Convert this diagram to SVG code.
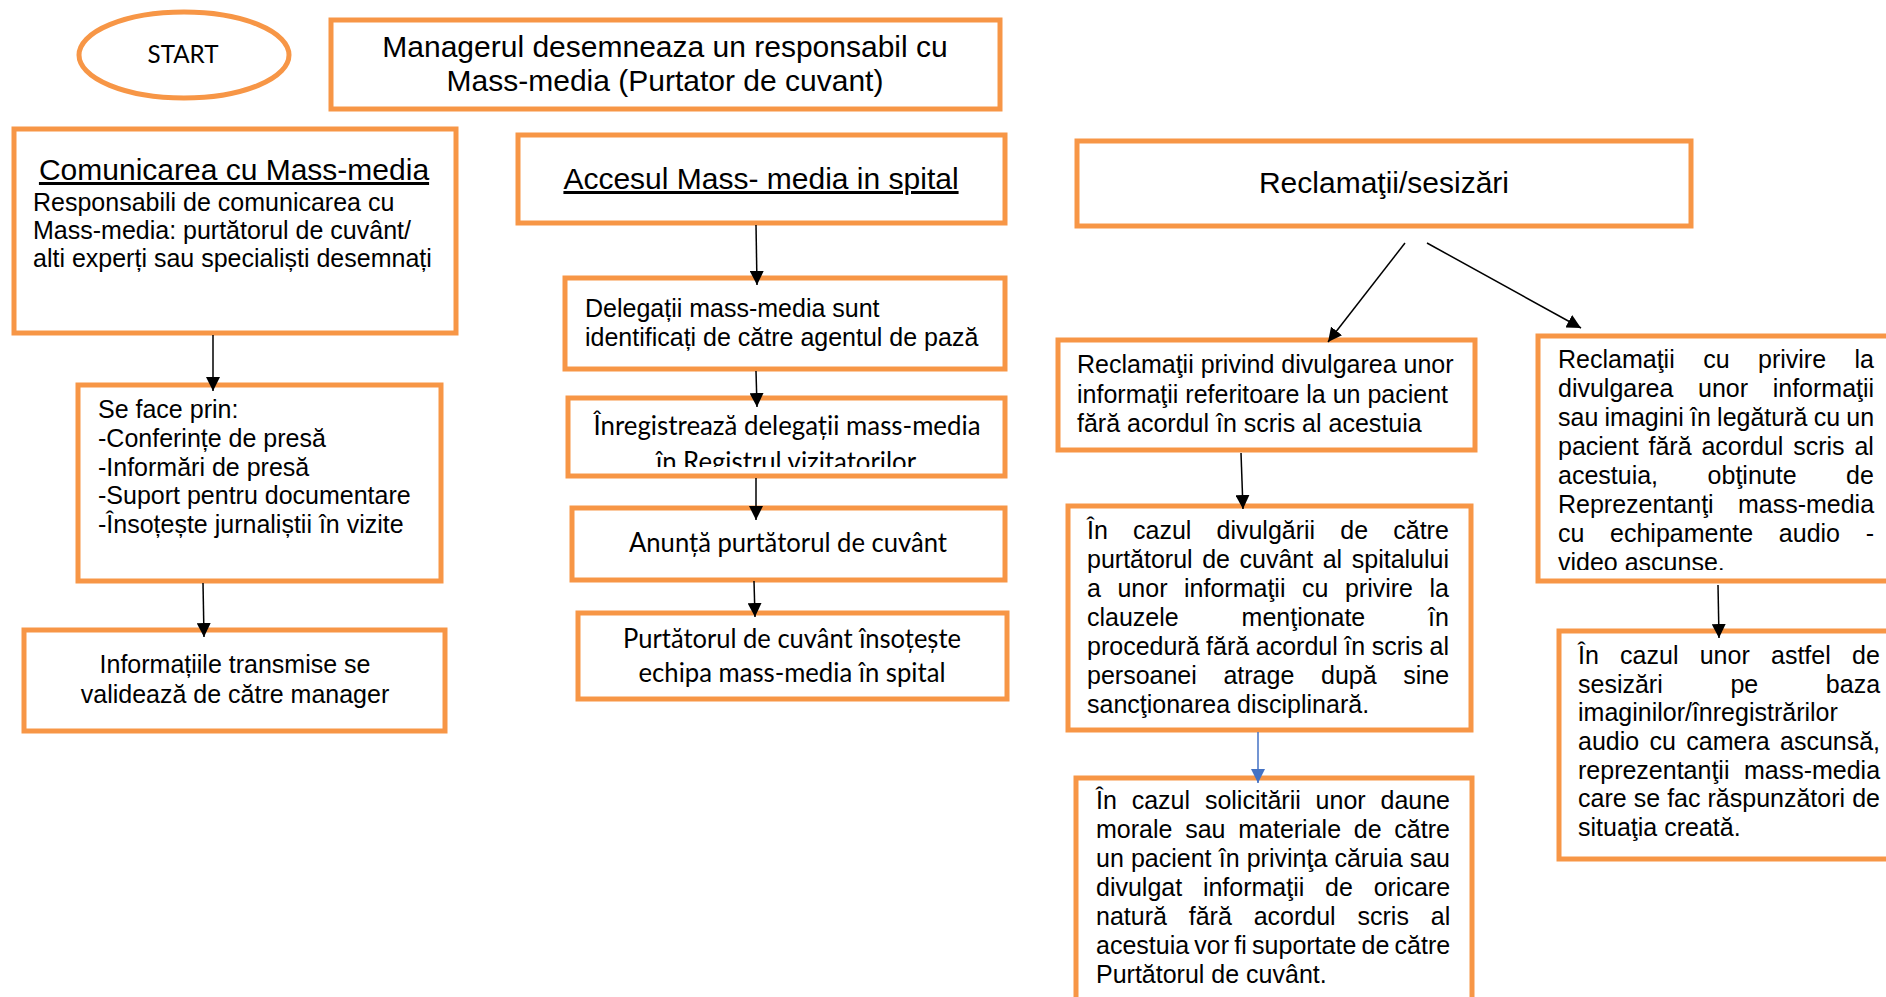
<svg xmlns="http://www.w3.org/2000/svg" width="1886" height="997" viewBox="0 0 1886 997">
<style>
.box{fill:#fff;stroke:#F79646;stroke-width:5}
.t{font-family:"Liberation Sans",Arial,sans-serif;font-size:25px;fill:#000}
.h{font-family:"Liberation Sans",Arial,sans-serif;font-size:30px;fill:#000}
.c{font-family:Lato,"Open Sans",sans-serif;font-size:27px;fill:#000}
.mid{text-anchor:middle}
.conn{stroke:#000;stroke-width:1.5;fill:none;marker-end:url(#ah)}
.blue{stroke:#4472C4;stroke-width:1.5;fill:none;marker-end:url(#ahb)}
</style>
<defs>
<marker id="ah" markerUnits="userSpaceOnUse" markerWidth="14" markerHeight="14" refX="14" refY="7" orient="auto"><path d="M0,0 L14,7 L0,14 z" fill="#000"/></marker>
<marker id="ahb" markerUnits="userSpaceOnUse" markerWidth="14" markerHeight="14" refX="14" refY="7" orient="auto"><path d="M0,0 L14,7 L0,14 z" fill="#4472C4"/></marker>
<clipPath id="clipReg"><rect x="570" y="400" width="433" height="67"/></clipPath>
<clipPath id="clipR1"><rect x="1540" y="338" width="346" height="232"/></clipPath>
</defs>
<rect width="1886" height="997" fill="#fff"/>

<g id="start">
<ellipse cx="184" cy="55" rx="105" ry="43" fill="#fff" stroke="#F79646" stroke-width="5"/>
<text class="c mid" x="183" y="63" textLength="71" lengthAdjust="spacingAndGlyphs" style="font-size:25px">START</text>
</g>

<g id="manager">
<rect class="box" x="331" y="20" width="669" height="89"/>
<text class="h mid" x="665" y="57">Managerul desemneaza un responsabil cu</text>
<text class="h mid" x="665" y="91">Mass-media (Purtator de cuvant)</text>
</g>

<g id="comunicarea">
<rect class="box" x="14" y="129" width="442" height="204"/>
<text class="h mid" x="234" y="180" text-decoration="underline">Comunicarea cu Mass-media</text>
<text class="t" x="33" y="211">Responsabili de comunicarea cu</text>
<text class="t" x="33" y="239">Mass-media: purtătorul de cuvânt/</text>
<text class="t" x="33" y="267">alti experți sau specialiști desemnați</text>
</g>

<g id="seface">
<rect class="box" x="78" y="385" width="363" height="196"/>
<text class="t" x="98" y="418">Se face prin:</text>
<text class="t" x="98" y="447">-Conferințe de presă</text>
<text class="t" x="98" y="476">-Informări de presă</text>
<text class="t" x="98" y="504">-Suport pentru documentare</text>
<text class="t" x="98" y="533">-Însoțește jurnaliștii în vizite</text>
</g>

<g id="informatiile">
<rect class="box" x="24" y="630" width="421" height="101"/>
<text class="t mid" x="235" y="673">Informațiile transmise se</text>
<text class="t mid" x="235" y="703">validează de către manager</text>
</g>

<g id="accesul">
<rect class="box" x="518" y="135" width="487" height="88"/>
<text class="h mid" x="761" y="189" text-decoration="underline">Accesul Mass- media in spital</text>
</g>

<g id="delegatii">
<rect class="box" x="565" y="278" width="440" height="91"/>
<text class="t" x="585" y="317">Delegații mass-media sunt</text>
<text class="t" x="585" y="346">identificați de către agentul de pază</text>
</g>

<g id="inregistreaza">
<rect class="box" x="568" y="398" width="437" height="78"/>
<g clip-path="url(#clipReg)">
<text class="c mid" x="787" y="435" textLength="387" lengthAdjust="spacingAndGlyphs">Înregistrează delegații mass-media</text>
<text class="c mid" x="786" y="471" textLength="260" lengthAdjust="spacingAndGlyphs">în Registrul vizitatorilor</text>
</g>
</g>

<g id="anunta">
<rect class="box" x="572" y="508" width="433" height="72"/>
<text class="c mid" x="788" y="552" textLength="318" lengthAdjust="spacingAndGlyphs">Anunță purtătorul de cuvânt</text>
</g>

<g id="purtatorul">
<rect class="box" x="578" y="613" width="429" height="86"/>
<text class="c mid" x="792" y="648" textLength="338" lengthAdjust="spacingAndGlyphs">Purtătorul de cuvânt însoțește</text>
<text class="c mid" x="792" y="682" textLength="307" lengthAdjust="spacingAndGlyphs">echipa mass-media în spital</text>
</g>

<g id="reclamatii">
<rect class="box" x="1077" y="141" width="614" height="85"/>
<text class="h mid" x="1384" y="193">Reclamaţii/sesizări</text>
</g>

<g id="divulgare">
<rect class="box" x="1058" y="340" width="417" height="110"/>
<text class="t" x="1077" y="373">Reclamaţii privind divulgarea unor</text>
<text class="t" x="1077" y="403">informaţii referitoare la un pacient</text>
<text class="t" x="1077" y="432">fără acordul în scris al acestuia</text>
</g>

<g id="cazul-divulgarii">
<rect class="box" x="1068" y="506" width="403" height="224"/>
<text class="t" x="1087" y="539" style="word-spacing:18.2px">În cazul divulgării de către</text>
<text class="t" x="1087" y="568" style="word-spacing:2.6px">purtătorul de cuvânt al spitalului</text>
<text class="t" x="1087" y="597" style="word-spacing:9.6px">a unor informaţii cu privire la</text>
<text class="t" x="1087" y="626" style="word-spacing:55.9px">clauzele menţionate în</text>
<text class="t" x="1087" y="655" style="word-spacing:-0.4px">procedură fără acordul în scris al</text>
<text class="t" x="1087" y="684" style="word-spacing:19.7px">persoanei atrage după sine</text>
<text class="t" x="1087" y="713">sancţionarea disciplinară.</text>
</g>

<g id="cazul-solicitarii">
<rect class="box" x="1076" y="778" width="396" height="240"/>
<text class="t" x="1096" y="809" style="word-spacing:7.9px">În cazul solicitării unor daune</text>
<text class="t" x="1096" y="838" style="word-spacing:5.8px">morale sau materiale de către</text>
<text class="t" x="1096" y="867" style="word-spacing:0.2px">un pacient în privinţa căruia sau</text>
<text class="t" x="1096" y="896" style="word-spacing:13.8px">divulgat informaţii de oricare</text>
<text class="t" x="1096" y="925" style="word-spacing:14.9px">natură fără acordul scris al</text>
<text class="t" x="1096" y="954" style="word-spacing:-1.7px">acestuia vor fi suportate de către</text>
<text class="t" x="1096" y="983">Purtătorul de cuvânt.</text>
</g>

<g id="imagini">
<rect class="box" x="1538" y="336" width="400" height="245"/>
<g clip-path="url(#clipR1)">
<text class="t" x="1558" y="368" style="word-spacing:21.5px">Reclamaţii cu privire la</text>
<text class="t" x="1558" y="397" style="word-spacing:17.7px">divulgarea unor informaţii</text>
<text class="t" x="1558" y="426" style="word-spacing:-0.7px">sau imagini în legătură cu un</text>
<text class="t" x="1558" y="455" style="word-spacing:2.9px">pacient fără acordul scris al</text>
<text class="t" x="1558" y="484" style="word-spacing:42.6px">acestuia, obţinute de</text>
<text class="t" x="1558" y="513" style="word-spacing:17.3px">Reprezentanţi mass-media</text>
<text class="t" x="1558" y="542" style="word-spacing:18.7px">cu echipamente audio -</text>
<text class="t" x="1558" y="571">video ascunse.</text>
</g>
</g>

<g id="camera-ascunsa">
<rect class="box" x="1559" y="631" width="400" height="228"/>
<text class="t" x="1578" y="664" style="word-spacing:14.3px">În cazul unor astfel de</text>
<text class="t" x="1578" y="693" style="word-spacing:60.7px">sesizări pe baza</text>
<text class="t" x="1578" y="721">imaginilor/înregistrărilor</text>
<text class="t" x="1578" y="750" style="word-spacing:3.4px">audio cu camera ascunsă,</text>
<text class="t" x="1578" y="779" style="word-spacing:7.5px">reprezentanţii mass-media</text>
<text class="t" x="1578" y="807" style="word-spacing:0.1px">care se fac răspunzători de</text>
<text class="t" x="1578" y="836">situaţia creată.</text>
</g>

<g id="connectors">
<line class="conn" x1="213" y1="335" x2="213" y2="391"/>
<line class="conn" x1="203" y1="583" x2="204" y2="637"/>
<line class="conn" x1="756" y1="225" x2="757" y2="285"/>
<line class="conn" x1="756" y1="371" x2="757" y2="407"/>
<line class="conn" x1="756" y1="478" x2="756" y2="520"/>
<line class="conn" x1="754" y1="581" x2="755" y2="617"/>
<line class="conn" x1="1405" y1="243" x2="1328" y2="342"/>
<line class="conn" x1="1427" y1="243" x2="1581" y2="328"/>
<line class="conn" x1="1241" y1="453" x2="1243" y2="509"/>
<line class="blue" x1="1258" y1="732" x2="1258" y2="783"/>
<line class="conn" x1="1718" y1="585" x2="1719" y2="638"/>
</g>
</svg>
